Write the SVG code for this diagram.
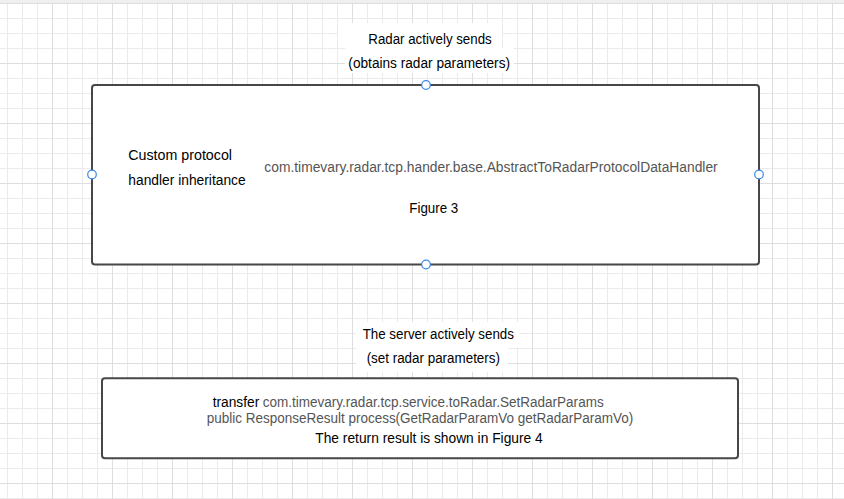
<svg xmlns="http://www.w3.org/2000/svg" width="844" height="499" viewBox="0 0 844 499">
<defs>
<pattern id="grid" patternUnits="userSpaceOnUse" x="7" y="3" width="60" height="60">
<path d="M0.5 0V60M15.5 0V60M30.5 0V60M0 15.5H60M0 30.5H60M0 45.5H60" stroke="#ebebeb" stroke-width="1" fill="none"/>
<path d="M45.5 0V60M0 0.5H60" stroke="#dedede" stroke-width="1" fill="none"/>
</pattern>
</defs>
<style>
text{font-family:"Liberation Sans",Arial,sans-serif;font-size:14px;fill:#000}
.g{fill:#555}
.box{fill:#fff;stroke:#474747;stroke-width:2}
.pt{fill:#fff;stroke:#3a86e8;stroke-width:1.2}
.bg{fill:#fff}
</style>
<rect width="844" height="499" fill="#fff"/>
<rect width="844" height="499" fill="url(#grid)"/>
<rect x="0" y="0" width="844" height="3" fill="#efefef"/>

<g id="label-radar-sends">
<rect class="bg" x="338" y="23" width="164" height="25"/>
<rect class="bg" x="345" y="48" width="169" height="25"/>
<text x="430" y="44.3" text-anchor="middle" textLength="123.4" lengthAdjust="spacingAndGlyphs">Radar actively sends</text>
<text x="429.2" y="68.3" text-anchor="middle" textLength="161.7" lengthAdjust="spacingAndGlyphs">(obtains radar parameters)</text>
</g>

<g id="node-handler">
<rect class="box" x="92" y="85" width="667" height="179.5" rx="3"/>
<text x="128.3" y="160" textLength="103.7" lengthAdjust="spacingAndGlyphs">Custom protocol</text>
<text x="128.3" y="185" textLength="117.4" lengthAdjust="spacingAndGlyphs">handler inheritance</text>
<text class="g" x="264.3" y="171.7" textLength="453.4" lengthAdjust="spacingAndGlyphs">com.timevary.radar.tcp.hander.base.AbstractToRadarProtocolDataHandler</text>
<text x="433.8" y="213.3" text-anchor="middle" textLength="49" lengthAdjust="spacingAndGlyphs">Figure 3</text>
<circle class="pt" cx="426" cy="85" r="4.3"/>
<circle class="pt" cx="92" cy="174.5" r="4.3"/>
<circle class="pt" cx="759" cy="174.5" r="4.3"/>
<circle class="pt" cx="426" cy="264.5" r="4.3"/>
</g>

<g id="label-server-sends">
<rect class="bg" x="356" y="322" width="164" height="25"/>
<rect class="bg" x="356" y="347" width="152" height="25"/>
<text x="438.3" y="339.3" text-anchor="middle" textLength="151.3" lengthAdjust="spacingAndGlyphs">The server actively sends</text>
<text x="433.3" y="363.3" text-anchor="middle" textLength="133.3" lengthAdjust="spacingAndGlyphs">(set radar parameters)</text>
</g>

<g id="node-transfer">
<rect class="box" x="102" y="378.3" width="636" height="80" rx="3"/>
<text x="212.7" y="406.7"><tspan textLength="46.6" lengthAdjust="spacingAndGlyphs">transfer</tspan><tspan class="g" x="262.7" textLength="341" lengthAdjust="spacingAndGlyphs">com.timevary.radar.tcp.service.toRadar.SetRadarParams</tspan></text>
<text class="g" x="420" y="422.7" text-anchor="middle" textLength="426.6" lengthAdjust="spacingAndGlyphs">public ResponseResult process(GetRadarParamVo getRadarParamVo)</text>
<text x="429" y="443.3" text-anchor="middle" textLength="227.4" lengthAdjust="spacingAndGlyphs">The return result is shown in Figure 4</text>
</g>

<g id="connectors"></g>
</svg>
